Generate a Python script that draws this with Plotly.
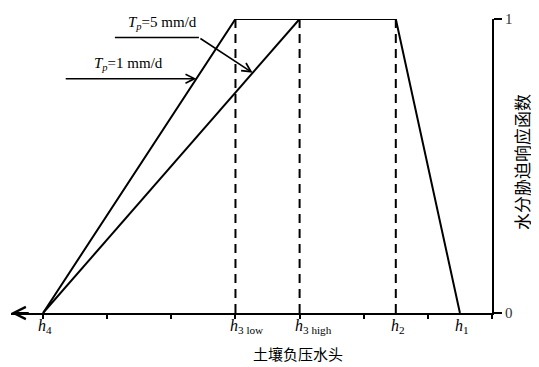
import plotly.graph_objects as go
import numpy as np

# ---- data ----
h_names = ["h4", "h3low", "h3high", "h2", "h1"]
h_values = [-7.0, -4.0, -3.0, -1.5, -0.5]   # soil suction head positions (axis units)
h_labels = ["<i>h</i><sub>4</sub>", "<i>h</i><sub>3 low</sub>", "<i>h</i><sub>3 high</sub>",
            "<i>h</i><sub>2</sub>", "<i>h</i><sub>1</sub>"]
tick_positions = [-7, -6, -5, -4, -3, -2, -1, 0]
y_ticks = [0, 1]
y_ticklabels = ["0", "1"]

h = dict(zip(h_names, h_values))
tp5_x = [h["h4"], h["h3low"], h["h2"], h["h1"]]
tp5_y = [0, 1, 1, 0]
tp1_x = [h["h4"], h["h3high"]]
tp1_y = [0, 1]
dashed_x = [h["h3low"], h["h3high"], h["h2"]]

x_title = "土壤负压水头"
y_title = "水分胁迫响应函数"
label_tp5 = "<i>T</i><sub><i>p</i></sub>=5 mm/d"
label_tp1 = "<i>T</i><sub><i>p</i></sub>=1 mm/d"

XMIN = -7.5
serif = "Liberation Serif"
cjk = "Noto Sans CJK SC"

fig = go.Figure()

for xv in dashed_x:
    fig.add_trace(go.Scatter(x=[xv, xv], y=[0, 1], mode="lines",
                             line=dict(color="black", width=2, dash="9px,6px"),
                             hoverinfo="skip", showlegend=False))

fig.add_trace(go.Scatter(x=tp5_x, y=tp5_y, mode="lines",
                         line=dict(color="black", width=2), showlegend=False))
fig.add_trace(go.Scatter(x=tp1_x, y=tp1_y, mode="lines",
                         line=dict(color="black", width=2), showlegend=False))

def on_line(xs, ys, yv):
    return float(np.interp(yv, ys, xs))

# Arrow for Tp=5 label: horizontal then diagonal onto Tp=1 line
y5 = 0.937
tgt5_y = 0.817
tgt5_x = on_line(tp1_x, tp1_y, tgt5_y)
bend5_x = -4.57
fig.add_trace(go.Scatter(x=[-5.88, bend5_x], y=[y5, y5], mode="lines",
                         line=dict(color="black", width=1.6), showlegend=False))
annotations = []
annotations.append(dict(x=tgt5_x, y=tgt5_y, ax=bend5_x, ay=y5, axref="x", ayref="y",
                        xref="x", yref="y", showarrow=True, arrowhead=5, arrowsize=1.1,
                        arrowwidth=1.6, arrowcolor="black", text=""))
# Arrow for Tp=1 label onto Tp=5 line
y1 = 0.797
tgt1_x = on_line(tp5_x[:2], tp5_y[:2], y1)
annotations.append(dict(x=tgt1_x, y=y1, ax=-6.67, ay=y1, axref="x", ayref="y",
                        xref="x", yref="y", showarrow=True, arrowhead=5, arrowsize=1.1,
                        arrowwidth=1.6, arrowcolor="black", text=""))

annotations.append(dict(x=-5.70, y=0.988, xref="x", yref="y", text=label_tp5, showarrow=False,
                        font=dict(family=serif, size=15, color="black"), xanchor="left", yanchor="middle"))
annotations.append(dict(x=-6.23, y=0.848, xref="x", yref="y", text=label_tp1, showarrow=False,
                        font=dict(family=serif, size=15, color="black"), xanchor="left", yanchor="middle"))

# left axis arrow
annotations.append(dict(x=XMIN, y=0, ax=XMIN + 0.3, ay=0, axref="x", ayref="y",
                        xref="x", yref="y", showarrow=True, arrowhead=5, arrowsize=1.2,
                        arrowwidth=2, arrowcolor="black", text="", standoff=0))

# h labels
for xv, lab in zip(h_values, h_labels):
    annotations.append(dict(x=xv, y=0, xref="x", yref="paper", text=lab, showarrow=False,
                            xanchor="left", yanchor="top", xshift=-7, yshift=-2,
                            font=dict(family=serif, size=16, color="black")))

annotations.append(dict(x=0.597, y=0, xref="paper", yref="paper", text=x_title, showarrow=False,
                        xanchor="center", yanchor="middle", yshift=-40,
                        font=dict(family=cjk, size=15, color="black")))
annotations.append(dict(x=1.06, y=0.513, xref="paper", yref="paper", text=y_title, showarrow=False,
                        xanchor="center", yanchor="middle", textangle=-90,
                        font=dict(family=cjk, size=17, color="black")))

# page body has an 8px margin, so the figure is 8px smaller and margins shifted
fig.update_layout(
    width=531, height=359,
    margin=dict(l=3, r=47, t=5, b=54),
    paper_bgcolor="white", plot_bgcolor="white",
    annotations=annotations,
    xaxis=dict(range=[XMIN, 0], showgrid=False, zeroline=False, showline=True,
               linecolor="black", linewidth=2, ticks="outside", ticklen=4, tickwidth=1.5,
               tickcolor="black", tickvals=tick_positions, showticklabels=False, fixedrange=True),
    yaxis=dict(range=[0, 1], side="right", showgrid=False, zeroline=False, showline=True,
               linecolor="black", linewidth=2, ticks="outside", ticklen=8, tickwidth=1.5,
               tickcolor="black", tickvals=y_ticks, ticktext=y_ticklabels,
               ticklabeloverflow="allow",
               tickfont=dict(family=serif, size=15, color="#333"), fixedrange=True),
    showlegend=False,
)

fig.write_html("out.html")
